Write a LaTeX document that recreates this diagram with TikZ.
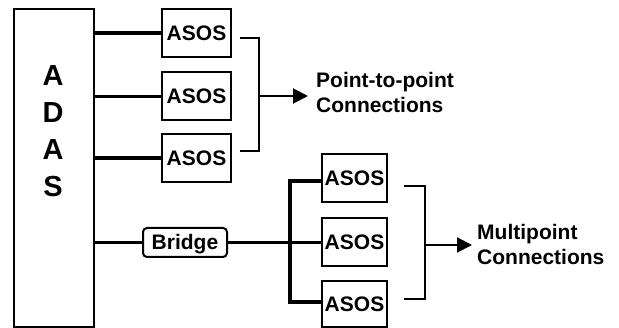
\documentclass[tikz,border=0pt]{standalone}
\usepackage{fontspec}
\setmainfont{Liberation Sans}
\usetikzlibrary{arrows.meta}
\begin{document}
\begin{tikzpicture}[x=1pt,y=-1pt,
  font=\bfseries\fontsize{21}{25}\selectfont,
  frame/.style={draw, line width=2pt, inner sep=0pt},
  asos/.style={frame, minimum width=69pt, minimum height=48pt},
  lasos/.style={frame, minimum width=65pt, minimum height=48pt},
  conn/.style={line width=3.4pt},
  brk/.style={line width=2pt},
  arr/.style={line width=2pt, -{Triangle[length=15pt,width=15pt]}},
  lbl/.style={align=left, anchor=west, inner sep=0pt}]
\useasboundingbox (0,0) rectangle (619,328);
% ADAS
\node[frame, minimum width=80pt, minimum height=318pt] (adas) at (54,168) {};
\node[font=\bfseries\fontsize{29}{37}\selectfont, align=center, inner sep=0pt] (letters) at (53,131) {A\\D\\A\\S};
% upper ASOS boxes
\node[asos] (a1) at (196.5,33) {ASOS};
\node[asos] (a2) at (196.5,96.5) {ASOS};
\node[asos] (a3) at (196.5,158) {ASOS};
\draw[conn] (adas.east |- a1) -- (a1.west);
\draw[conn] (adas.east |- a2) -- (a2.west);
\draw[conn] (adas.east |- a3) -- (a3.west);
% bracket 1
\coordinate (b1t) at (240,38);
\coordinate (b1b) at (240,151);
\coordinate (b1m) at (259,96);
\draw[brk] (b1t) -- (259,38) -- (259,151) -- (b1b);
\node[lbl] (p2p) at (316,92.5) {Point-to-point\\Connections};
\coordinate (t1) at (308,96);
\draw[arr] (b1m) -- (t1);
% bridge
\node[frame, rounded corners=4pt, minimum width=84pt, minimum height=29pt, text height=15pt, text depth=0pt] (bridge) at (185,242.5) {Bridge};
\draw[conn] (adas.east |- bridge) -- (bridge.west);
% lower ASOS boxes
\node[lasos] (l1) at (354.5,178) {ASOS};
\node[lasos] (l2) at (354.5,242) {ASOS};
\node[lasos, minimum height=46pt] (l3) at (354.5,304) {ASOS};
\coordinate (bt) at (290,181);
\coordinate (bm) at (290,242.5);
\coordinate (bb) at (290,302);
\draw[conn] (bt -| l1.west) -- (bt) -- (bb) -- (bb -| l3.west);
\draw[conn] (bridge.east) -- (bm) -- (bm -| l2.west);
% bracket 2
\coordinate (b2t) at (404,186);
\coordinate (b2b) at (404,299);
\coordinate (b2m) at (425,245);
\draw[brk] (b2t) -- (425,186) -- (425,299) -- (b2b);
\coordinate (t2) at (472,245);
\draw[arr] (b2m) -- (t2);
\node[lbl] (mp) at (477,244.5) {Multipoint\\Connections};
\end{tikzpicture}
\end{document}
